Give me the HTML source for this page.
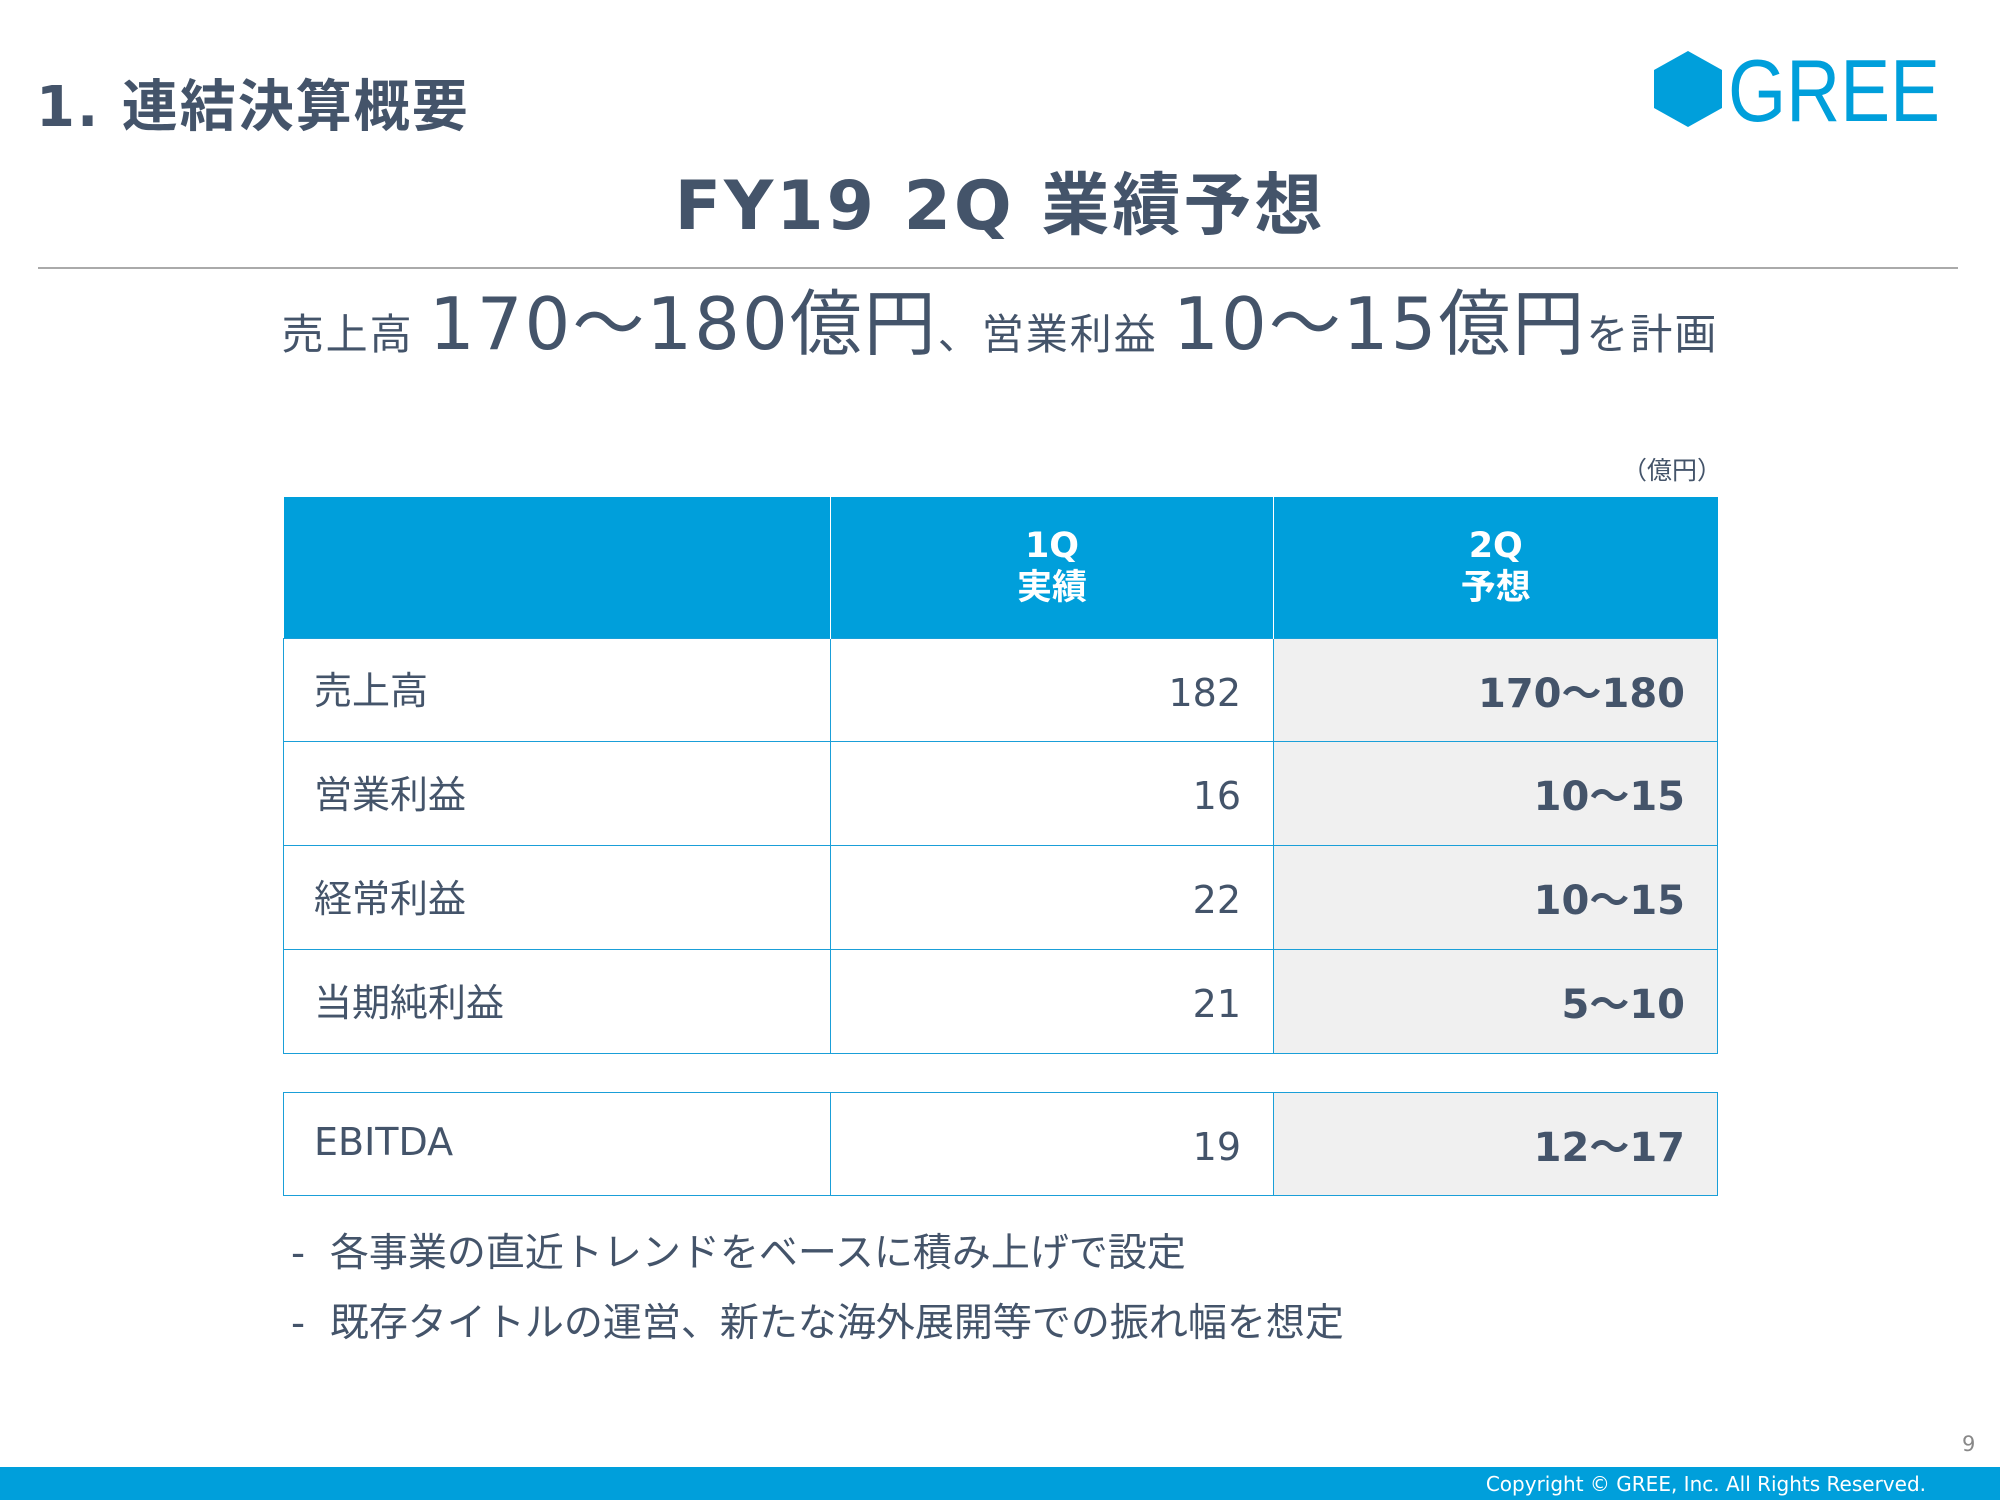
<!DOCTYPE html>
<html><head><meta charset="utf-8"><style>
body{margin:0;width:2000px;height:1500px;background:#fff;position:relative;overflow:hidden;font-family:"DejaVu Sans","Noto Sans CJK JP",sans-serif;color:#44546a}
.a{position:absolute;white-space:nowrap}
table{position:absolute;left:283px;border-collapse:collapse;table-layout:fixed}
td{border:1.5px solid #1a9fd8;padding:0;font-size:38px}
td.l{padding-left:30px;padding-bottom:4px}
td.n{text-align:right;padding-right:32px;padding-top:6px}
td.g{background:#f0f0f0;text-align:right;padding-right:32px;font-weight:bold;font-size:40px;padding-top:0}
th{background:#009fdb;color:#fff;font-size:35px;font-weight:bold;line-height:42px;border-left:1.5px solid #fff}
</style></head><body>
<div class="a" style="left:36px;top:62px;font-size:56px;font-weight:bold;letter-spacing:2px">1. 連結決算概要</div>
<svg class="a" style="left:1654px;top:51px" width="68" height="76" viewBox="0 0 68 76"><polygon points="34,0 68,19 68,57 34,76 0,57 0,19" fill="#009fdb"/></svg>
<div class="a" style="left:1728px;top:46px;font-size:88px;color:#009fdb;line-height:90px;font-family:'Liberation Sans',sans-serif;transform:scaleX(0.85);transform-origin:left">GREE</div>
<div class="a" style="left:0;width:2000px;text-align:center;top:150px;font-size:68px;font-weight:bold;letter-spacing:3px">FY19 2Q 業績予想</div>
<div class="a" style="left:38px;top:267px;width:1920px;height:1.5px;background:#aaa"></div>
<div class="a" style="left:0;width:2000px;text-align:center;top:282px;font-size:42px;line-height:84px;letter-spacing:2px">売上高 <span style="font-size:72px">170～180億円</span>、営業利益 <span style="font-size:72px">10～15億円</span>を計画</div>
<div class="a" style="left:1622px;top:451px;font-size:25px">（億円）</div>
<table style="top:497px;width:1434px">
<colgroup><col style="width:547px"><col style="width:443px"><col style="width:444px"></colgroup>
<tr style="height:141px"><th style="border-left:none"></th><th>1Q<br>実績</th><th>2Q<br>予想</th></tr>
<tr style="height:103px"><td class="l">売上高</td><td class="n">182</td><td class="g">170～180</td></tr>
<tr style="height:104px"><td class="l">営業利益</td><td class="n">16</td><td class="g">10～15</td></tr>
<tr style="height:104px"><td class="l">経常利益</td><td class="n">22</td><td class="g">10～15</td></tr>
<tr style="height:104px"><td class="l">当期純利益</td><td class="n">21</td><td class="g">5～10</td></tr>
</table>
<table style="top:1092px;width:1434px">
<colgroup><col style="width:547px"><col style="width:443px"><col style="width:444px"></colgroup>
<tr style="height:103px"><td class="l">EBITDA</td><td class="n">19</td><td class="g">12～17</td></tr>
</table>
<div class="a" style="left:291px;top:1222px;font-size:39px">-&nbsp; 各事業の直近トレンドをベースに積み上げで設定</div>
<div class="a" style="left:291px;top:1292px;font-size:39px">-&nbsp; 既存タイトルの運営、新たな海外展開等での振れ幅を想定</div>
<div class="a" style="left:1962px;top:1432px;font-size:21px;color:#888">9</div>
<div class="a" style="left:0;top:1467px;width:2000px;height:33px;background:#009fdb"></div>
<div class="a" style="right:74px;top:1472px;font-size:20px;color:#fff">Copyright © GREE, Inc. All Rights Reserved.</div>
</body></html>
